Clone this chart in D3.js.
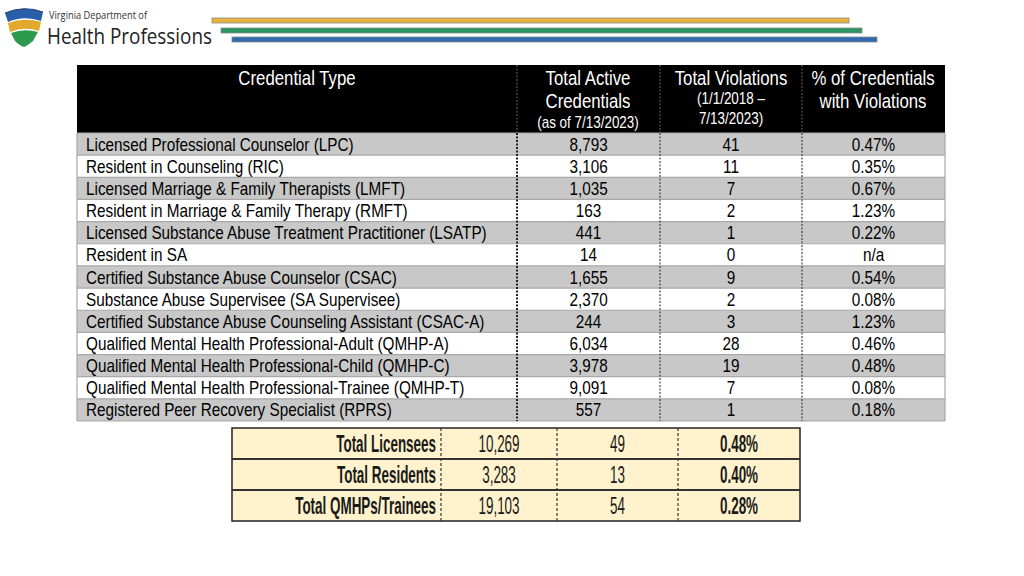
<!DOCTYPE html>
<html><head><meta charset="utf-8">
<script src="https://cdn.jsdelivr.net/npm/d3@7"></script>
<style>
html,body{margin:0;padding:0;background:#fff;}
svg{display:block;}
</style></head>
<body>
<svg id="c" width="1024" height="576"></svg>
<script>
const credentials = [
  "Licensed Professional Counselor (LPC)",
  "Resident in Counseling (RIC)",
  "Licensed Marriage & Family Therapists (LMFT)",
  "Resident in Marriage & Family Therapy (RMFT)",
  "Licensed Substance Abuse Treatment Practitioner (LSATP)",
  "Resident in SA",
  "Certified Substance Abuse Counselor (CSAC)",
  "Substance Abuse Supervisee (SA Supervisee)",
  "Certified Substance Abuse Counseling Assistant (CSAC-A)",
  "Qualified Mental Health Professional-Adult (QMHP-A)",
  "Qualified Mental Health Professional-Child (QMHP-C)",
  "Qualified Mental Health Professional-Trainee (QMHP-T)",
  "Registered Peer Recovery Specialist (RPRS)"
];
const activeCredentials = ["8,793","3,106","1,035","163","441","14","1,655","2,370","244","6,034","3,978","9,091","557"];
const violations = ["41","11","7","2","1","0","9","2","3","28","19","7","1"];
const pctViolations = ["0.47%","0.35%","0.67%","1.23%","0.22%","n/a","0.54%","0.08%","1.23%","0.46%","0.48%","0.08%","0.18%"];

const totalLabels = ["Total Licensees","Total Residents","Total QMHPs/Trainees"];
const totalActive = ["10,269","3,283","19,103"];
const totalViolations = ["49","13","54"];
const totalPct = ["0.48%","0.40%","0.28%"];

const columns = ["type","active","viol","pct"];

const svg = d3.select("#c");
const FONT = "'Liberation Sans Narrow','Arial Narrow','Liberation Sans',Arial,sans-serif";

// ---------- Logo ----------
const logo = svg.append("g");
logo.append("path").attr("d","M5,13 Q24,5 43,12 L41,21 Q24,15 8,22 Z").attr("fill","#2a5ea8");
logo.append("path").attr("d","M8,23 Q24,17 41,22 L39,31 Q24,26 10,32 Z").attr("fill","#e3a92c");
logo.append("path").attr("d","M11,33 Q24,28 38,32 L33,41 Q27,46 24,47 Q20,46 15,41 Z").attr("fill","#2e9a4e");
logo.append("path").attr("d","M5,13 Q24,5 43,12").attr("fill","none").attr("stroke","#1c3f7a").attr("stroke-width",1);
logo.append("text").attr("x",49).attr("y",19).attr("font-family","'Open Sans',sans-serif").attr("font-size",10)
  .attr("fill","#333").attr("textLength",98).attr("lengthAdjust","spacingAndGlyphs").text("Virginia Department of");
logo.append("text").attr("x",47).attr("y",44).attr("font-family","'Open Sans',sans-serif").attr("font-size",21)
  .attr("fill","#222").attr("textLength",165).attr("lengthAdjust","spacingAndGlyphs").text("Health Professions");

// decorative lines
const deco = [{x1:212,x2:849,y:18,c:"#e6b23c"},{x1:221,x2:862,y:28,c:"#2a9560"},{x1:232,x2:877,y:37,c:"#3069b0"}];
svg.selectAll("rect.deco").data(deco).join("rect").attr("class","deco")
  .attr("x",d=>d.x1).attr("y",d=>d.y).attr("width",d=>d.x2-d.x1).attr("height",5)
  .attr("fill",d=>d.c).attr("stroke","#8a8a8a").attr("stroke-width",0.8);

// ---------- Main table ----------
const colEdges = {type:[77,517], active:[517,660], viol:[660,802], pct:[802,945]};
const headTop = 65, headBot = 133, tableBot = 421;
const y = d3.scaleBand().domain(d3.range(credentials.length)).range([headBot, tableBot]).padding(0);

svg.append("rect").attr("x",77).attr("y",headTop).attr("width",945-77).attr("height",headBot-headTop).attr("fill","#000");

const hdr = svg.append("g").attr("font-family",FONT).attr("fill","#fff").attr("text-anchor","middle");
const headerLines = [
  {x:297,y:85,s:20,t:"Credential Type"},
  {x:588,y:85,s:20,t:"Total Active"},
  {x:588,y:108,s:20,t:"Credentials"},
  {x:588,y:128,s:16,t:"(as of 7/13/2023)"},
  {x:731,y:85,s:20,t:"Total Violations"},
  {x:731,y:104,s:16,t:"(1/1/2018 \u2013"},
  {x:731,y:124,s:16,t:"7/13/2023)"},
  {x:873,y:85,s:20,t:"% of Credentials"},
  {x:873,y:108,s:20,t:"with Violations"}
];
hdr.selectAll("text").data(headerLines).join("text")
  .attr("transform",d=>`translate(${d.x},${d.y}) scale(0.84,1)`)
  .attr("font-size",d=>d.s).text(d=>d.t);

const rows = credentials.map((c,i)=>({i, type:c, active:activeCredentials[i], viol:violations[i], pct:pctViolations[i]}));
const body = svg.append("g");
body.selectAll("rect.row").data(rows).join("rect").attr("class","row")
  .attr("x",77).attr("y",d=>y(d.i)).attr("width",945-77).attr("height",y.bandwidth())
  .attr("fill",d=>d.i%2===0?"#c8c8c8":"#ffffff");
body.selectAll("line.sep").data(d3.range(credentials.length+1)).join("line").attr("class","sep")
  .attr("x1",77).attr("x2",945).attr("y1",i=>headBot+i*y.bandwidth()).attr("y2",i=>headBot+i*y.bandwidth())
  .attr("stroke","#a8a8a8").attr("stroke-width",1.2);
body.append("line").attr("x1",77).attr("x2",77).attr("y1",headBot).attr("y2",tableBot).attr("stroke","#a8a8a8").attr("stroke-width",1.2);
body.append("line").attr("x1",945).attr("x2",945).attr("y1",headBot).attr("y2",tableBot).attr("stroke","#a8a8a8").attr("stroke-width",1.2);
const dividers = [517,660,802];
body.selectAll("line.div").data(dividers).join("line").attr("class","div")
  .attr("x1",d=>d).attr("x2",d=>d).attr("y1",headBot).attr("y2",tableBot)
  .attr("stroke",(d,i)=>i===0?"#222":"#444").attr("stroke-width",(d,i)=>i===0?2:1.2).attr("stroke-dasharray","2,1.5");
svg.selectAll("line.hdiv").data(dividers).join("line").attr("class","hdiv")
  .attr("x1",d=>d).attr("x2",d=>d).attr("y1",headTop).attr("y2",headBot)
  .attr("stroke","#666").attr("stroke-width",1).attr("stroke-dasharray","2,1.5");

const cellText = body.append("g").attr("font-family",FONT).attr("font-size",18).attr("fill","#000");
columns.forEach(col=>{
  const [a,b] = colEdges[col];
  cellText.selectAll("text."+col).data(rows).join("text").attr("class",col)
    .attr("transform", d=>`translate(${col==="type" ? 86 : (a+b)/2},${y(d.i)+y.bandwidth()/2+6.5}) scale(0.85,1)`)
    .attr("text-anchor", col==="type" ? "start" : "middle")
    .text(d=>d[col]);
});

// ---------- Totals table ----------
const tEdges = [232,441,557,678,800];
const ty = d3.scaleBand().domain(d3.range(totalLabels.length)).range([428,521]);
const tot = svg.append("g");
tot.append("rect").attr("x",232).attr("y",428).attr("width",800-232).attr("height",521-428)
  .attr("fill","#fff2cc").attr("stroke","#222").attr("stroke-width",1.5);
tot.selectAll("line.tsep").data([1,2]).join("line").attr("class","tsep")
  .attr("x1",232).attr("x2",800).attr("y1",i=>ty(i)).attr("y2",i=>ty(i)).attr("stroke","#333").attr("stroke-width",2);
tot.selectAll("line.tdiv").data(tEdges.slice(1,4)).join("line").attr("class","tdiv")
  .attr("x1",d=>d).attr("x2",d=>d).attr("y1",428).attr("y2",521)
  .attr("stroke","#333").attr("stroke-width",1.2).attr("stroke-dasharray","3,2");

const trows = totalLabels.map((l,i)=>({i,label:l,active:totalActive[i],viol:totalViolations[i],pct:totalPct[i]}));
const tcols = [
  {k:"label", x:436, anchor:"end", bold:true},
  {k:"active", x:499, anchor:"middle", bold:false},
  {k:"viol", x:(557+678)/2, anchor:"middle", bold:false},
  {k:"pct", x:(678+800)/2, anchor:"middle", bold:true}
];
tcols.forEach(c=>{
  tot.selectAll("text.t"+c.k).data(trows).join("text").attr("class","t"+c.k)
    .attr("transform",d=>`translate(${c.x},${ty(d.i)+ty.bandwidth()/2+8.5}) scale(0.56,1)`)
    .attr("text-anchor",c.anchor)
    .attr("font-family",FONT).attr("font-size",24)
    .attr("font-weight",c.bold?"bold":"normal")
    .attr("fill","#1a1a1a")
    .text(d=>d[c.k]);
});
</script>
</body></html>
